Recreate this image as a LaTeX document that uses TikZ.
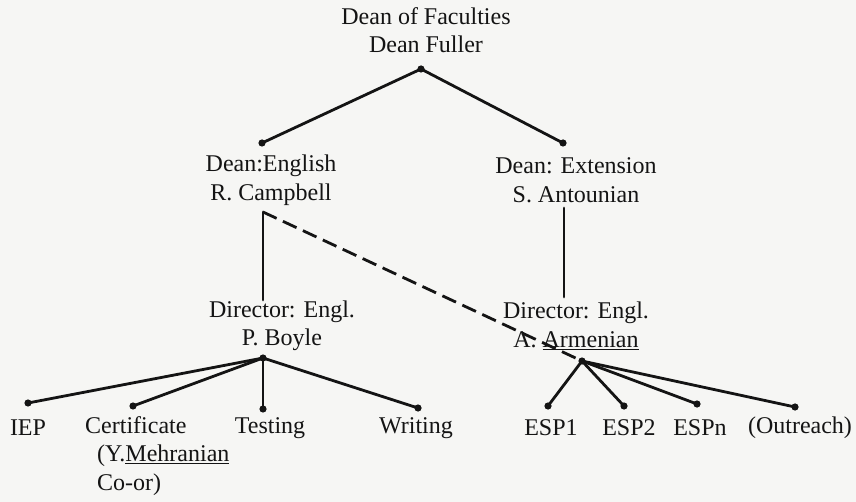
\documentclass[tikz,border=0pt]{standalone}
\usepackage{fontspec}
\setmainfont{Liberation Serif}
\usetikzlibrary{arrows.meta}
\definecolor{paper}{RGB}{246,246,244}
\definecolor{ink}{RGB}{20,20,20}
\tikzset{
  lbl/.style={font=\fontsize{24}{28.5}\selectfont, align=center, inner sep=0pt, text=ink},
  link/.style={draw=ink, line width=2.8pt, line cap=round},
  dashlink/.style={link, line cap=butt, dash pattern=on 15pt off 7pt},
  dotmark/.style={fill=ink}
}
\begin{document}
\begin{tikzpicture}[x=1pt,y=-1pt]
\fill[paper] (0,0) rectangle (856,502);
\useasboundingbox (0,0) rectangle (856,502);

% text nodes
\node[lbl] (dof) at (426,30) {Dean of Faculties\\Dean Fuller};
\node[lbl] (deng) at (271,180) {Dean:English\\R. Campbell};
\node[lbl] (dext) at (576,180) {Dean: Extension\\S. Antounian};
\node[lbl] (dirl) at (282,326) {Director: Engl.\\P. Boyle};
\node[lbl] (dirr) at (576,326) {Director: Engl.\\A. \underline{Armenian}};
\node[lbl] (iep) at (28,428) {IEP};
\node[lbl, align=left, anchor=west] (cert) at (85,456) {Certificate\\\hspace*{12pt}(Y.\underline{Mehranian}\\\hspace*{12pt}Co-or)};
\node[lbl] (test) at (270,428) {Testing};
\node[lbl] (writ) at (416,428) {Writing};
\node[lbl] (esp1) at (551,428) {ESP1};
\node[lbl] (esp2) at (629,428) {ESP2};
\node[lbl] (espn) at (700,428) {ESPn};
\node[lbl] (outr) at (800,428) {(Outreach)};

% connector points
\coordinate (top) at (421,69);
\coordinate (lend) at (262,143);
\coordinate (rend) at (563,143);
\coordinate (corner) at (263,212);
\coordinate (lvbot) at (263,300);
\coordinate (rvtop) at (564,208);
\coordinate (rvbot) at (564,297);
\coordinate (hubl) at (263,358);
\coordinate (hubr) at (582,361);
\coordinate (iept) at (28,403);
\coordinate (certt) at (133,406);
\coordinate (testt) at (263,409);
\coordinate (writt) at (418,408);
\coordinate (esp1t) at (548,406);
\coordinate (esp2t) at (624,406);
\coordinate (espnt) at (697,404);
\coordinate (outrt) at (795,407);

% connectors
\draw[link] (top) -- (lend);
\draw[link] (top) -- (rend);
\draw[link] (lvbot) -- (corner);
\draw[dashlink] (corner) -- (hubr);
\draw[link] (rvtop) -- (rvbot);
\foreach \e in {iept,certt,testt,writt} \draw[link] (hubl) -- (\e);
\foreach \e in {esp1t,esp2t,espnt,outrt} \draw[link] (hubr) -- (\e);

% end dots
\foreach \p in {top,lend,rend,hubl,hubr,iept,certt,testt,writt,esp1t,esp2t,espnt,outrt}
  \fill[dotmark] (\p) circle (3.6pt);
\end{tikzpicture}
\end{document}
